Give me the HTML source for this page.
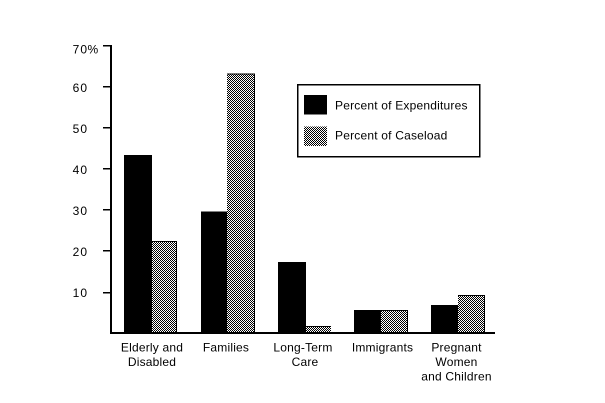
<!DOCTYPE html>
<html><head><meta charset="utf-8"><style>
html,body{margin:0;padding:0;background:#fff;}
svg{display:block;}
text{font-family:"Liberation Sans",Arial,sans-serif;font-size:12px;fill:#000;}
</style></head><body>
<svg width="605" height="403" viewBox="0 0 605 403" xmlns="http://www.w3.org/2000/svg">
<defs>
<pattern id="h" x="0" y="0" width="2" height="2" patternUnits="userSpaceOnUse">
<rect x="0" y="0" width="2" height="2" fill="#fff"/>
<rect x="0" y="0" width="1" height="1" fill="#000"/>
<rect x="1" y="1" width="1" height="1" fill="#000"/>
</pattern>
</defs>
<rect width="605" height="403" fill="#fff"/>
<g shape-rendering="crispEdges">
<!-- Elderly -->
<rect x="124" y="155" width="28" height="178" fill="#000"/>
<rect x="152" y="241" width="25" height="92" fill="url(#h)"/>
<rect x="152" y="241" width="25" height="1" fill="#000"/>
<rect x="176" y="241" width="1" height="92" fill="#000"/>
<!-- Families -->
<rect x="201" y="211.5" width="26" height="121.5" fill="#000"/>
<rect x="227" y="73.5" width="28" height="259.5" fill="url(#h)"/>
<rect x="227" y="73.5" width="28" height="1" fill="#000"/>
<rect x="254" y="73.5" width="1" height="259.5" fill="#000"/>
<!-- LTC -->
<rect x="278" y="262" width="28" height="71" fill="#000"/>
<rect x="306" y="326" width="25" height="7" fill="url(#h)"/>
<rect x="306" y="326" width="25" height="1" fill="#000"/>
<!-- Immigrants -->
<rect x="354" y="310" width="27" height="23" fill="#000"/>
<rect x="381" y="310" width="27" height="23" fill="url(#h)"/>
<rect x="381" y="310" width="27" height="1" fill="#000"/>
<rect x="407" y="310" width="1" height="23" fill="#000"/>
<!-- Pregnant -->
<rect x="431" y="305" width="27" height="28" fill="#000"/>
<rect x="458" y="295" width="27" height="38" fill="url(#h)"/>
<rect x="458" y="295" width="27" height="1" fill="#000"/>
<rect x="484" y="295" width="1" height="38" fill="#000"/>
<!-- axes -->
<rect x="110" y="45" width="2" height="289" fill="#000"/>
<rect x="110" y="332" width="385" height="2" fill="#000"/>
<!-- ticks -->
<rect x="103" y="45" width="8" height="1.5" fill="#000"/>
<rect x="103" y="86" width="8" height="1.5" fill="#000"/>
<rect x="103" y="127" width="8" height="1.5" fill="#000"/>
<rect x="103" y="168" width="8" height="1.5" fill="#000"/>
<rect x="103" y="209" width="8" height="1.5" fill="#000"/>
<rect x="103" y="250" width="8" height="1.5" fill="#000"/>
<rect x="103" y="292" width="8" height="1.5" fill="#000"/>
<!-- legend -->
<rect x="297.5" y="84.5" width="182" height="72" fill="none" stroke="#000" stroke-width="1.5"/>
<rect x="304" y="95" width="23" height="19.5" fill="#000"/>
<rect x="304" y="126.5" width="23" height="19.5" fill="url(#h)"/>
</g>
<g style="letter-spacing:1px" text-anchor="end">
<text x="88" y="53.5">70</text>
<text x="88" y="92">60</text>
<text x="88" y="133">50</text>
<text x="88" y="174">40</text>
<text x="88" y="215">30</text>
<text x="88" y="256">20</text>
<text x="88" y="297">10</text>
</g>
<text x="87.5" y="53.5">%</text>
<g style="letter-spacing:0.2px">
<text x="335" y="109.5">Percent of Expenditures</text>
<text x="335" y="139.5">Percent of Caseload</text>
</g>
<g text-anchor="middle" style="letter-spacing:0.2px">
<text x="152" y="351.7">Elderly and</text>
<text x="152" y="366">Disabled</text>
<text x="226" y="351.7">Families</text>
<text x="303" y="351.7">Long-Term</text>
<text x="305" y="366">Care</text>
<text x="382.5" y="351.7">Immigrants</text>
<text x="456.5" y="351.7">Pregnant</text>
<text x="456.5" y="366">Women</text>
<text x="456.5" y="380.3">and Children</text>
</g>
</svg>
</body></html>
